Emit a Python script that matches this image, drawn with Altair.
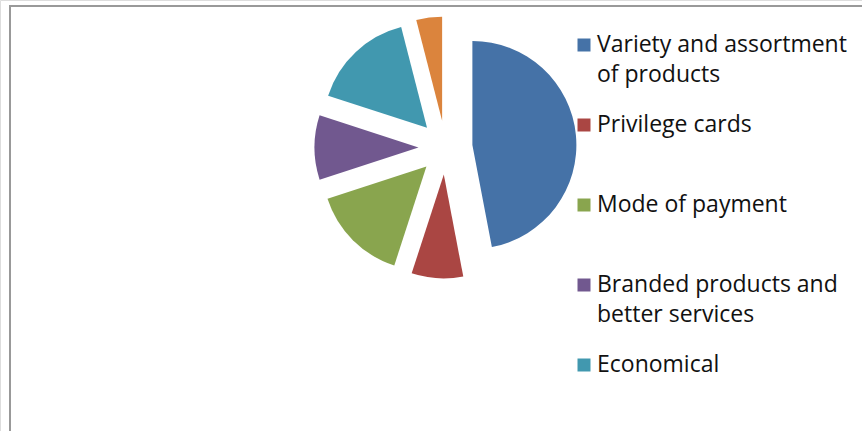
import altair as alt
import pandas as pd

# Share of respondents by reason for choosing a store (percent)
categories = [
    "Variety and assortment of products",
    "Privilege cards",
    "Mode of payment",
    "Branded products and better services",
    "Economical",
    "Others",
]
shares = [47, 8, 15, 10, 16, 4]
colors = ["#4572a7", "#aa4643", "#89a54e", "#71588f", "#4198af", "#db843d"]

# Legend text (the last category does not fit in the legend box)
legend_labels = [
    "Variety and assortment\nof products",
    "Privilege cards",
    "Mode of payment",
    "Branded products and\nbetter services",
    "Economical",
]

# Layout constants (pixels)
W, H = 862, 431
CX, CY = 445.5, 147.5      # pie centre
RADIUS = 104
EXPLODE = 27               # distance each slice is pulled out
LEG_X = 584
LEG_Y0 = 45
LEG_STEP = 80
FONT = "Open Sans"

color_scale = alt.Scale(domain=categories, range=colors)

pie_df = pd.DataFrame({"category": categories, "share": shares, "order": list(range(len(categories)))})

pie = (
    alt.Chart(pie_df)
    .transform_joinaggregate(total="sum(share)")
    .transform_window(cum="sum(share)", sort=[alt.SortField("order")], frame=[None, 0])
    .transform_calculate(
        start="datum.cum - datum.share",
        mid="(datum.cum - datum.share / 2) / datum.total * 2 * PI",
    )
    .transform_calculate(
        px=f"{CX} + {EXPLODE} * sin(datum.mid)",
        py=f"{CY} - {EXPLODE} * cos(datum.mid)",
    )
    .mark_arc(outerRadius=RADIUS)
    .encode(
        theta=alt.Theta("start:Q", stack=None, scale=alt.Scale(domain=[0, 100], range=[0, 6.283185307179586])),
        theta2="cum:Q",
        x=alt.X("px:Q", scale=None, axis=None),
        y=alt.Y("py:Q", scale=None, axis=None),
        color=alt.Color("category:N", scale=color_scale, legend=None),
    )
)

legend_df = pd.DataFrame({"label": legend_labels, "category": categories[: len(legend_labels)]})
legend_base = (
    alt.Chart(legend_df)
    .transform_window(idx="row_number()")
    .transform_calculate(ly=f"{LEG_Y0} + (datum.idx - 1) * {LEG_STEP}")
)

legend_squares = legend_base.mark_square(size=169, filled=True, opacity=1).encode(
    x=alt.value(LEG_X),
    y=alt.Y("ly:Q", scale=None, axis=None),
    color=alt.Color("category:N", scale=color_scale, legend=None),
)

legend_text = legend_base.mark_text(
    align="left",
    baseline="alphabetic",
    lineBreak="\n",
    lineHeight=30,
    fontSize=23,
    font=FONT,
    color="#111111",
    dy=7,
).encode(
    x=alt.value(LEG_X + 13),
    y=alt.Y("ly:Q", scale=None, axis=None),
    text="label:N",
)

frame = alt.Chart(pie_df).mark_rect(fill=None, stroke="#999999", strokeWidth=2).encode(
    x=alt.value(10), x2=alt.value(W + 50), y=alt.value(6), y2=alt.value(H + 50)
)

chart = (
    alt.layer(frame, pie, legend_squares, legend_text)
    .properties(width=W, height=H, padding=0, autosize=alt.AutoSizeParams(type="none"))
    .configure_view(stroke=None)
    .configure(background="white")
)

chart.save("out.html", embed_options={"renderer": "svg", "actions": False})
